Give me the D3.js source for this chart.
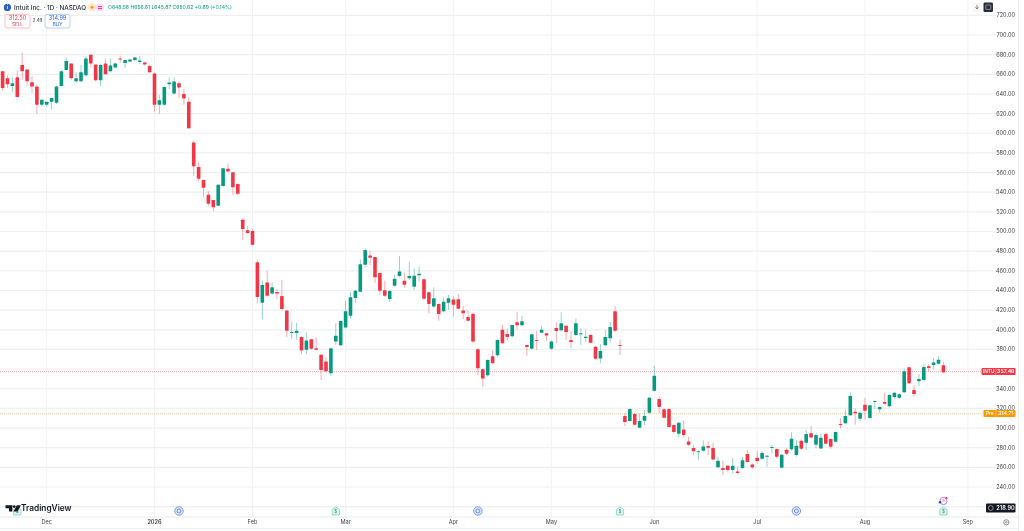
<!DOCTYPE html>
<html>
<head>
<meta charset="utf-8">
<script src="https://cdn.jsdelivr.net/npm/d3@7/dist/d3.min.js"></script>
<style>
html,body{margin:0;padding:0;background:#fff;overflow:hidden}
svg{display:block;filter:blur(0.3px)}
text{font-family:Inter,"Liberation Sans",sans-serif}
</style>
</head>
<body>
<svg id="chart" width="1024" height="531"></svg>
<script>
const opens=[663,656,648,657,669.5,665,652,647.5,629,629,632,631,648,664.5,671,653,653,659,680,670,654,671,663,667,676,671.5,673,674.5,672.6,672,668.5,660.7,629,629,650,640.5,651,640,632,590.7,565.6,552.4,537.5,532,526.3,546.3,564,560.2,548.3,512,501.2,500.5,468.7,427.6,448,436.8,438.5,434.4,419.5,397.1,396.8,392.7,379.8,390.3,381.2,374.7,367.6,355.7,388,384.2,402.2,414.4,432.4,438.8,466.3,475.5,474.1,457.8,440.2,431.4,444.9,454.8,450,452.4,443.9,455.4,451.4,438.1,423.6,426.3,418.8,427.6,430.7,431,419.5,413,416.4,380.1,359.8,353.7,373,374,400.1,395.7,393.4,407.6,404.5,384.5,380.8,389.6,397.1,396.4,380.8,401.8,399.4,404.2,389.6,394.7,395.4,391.6,394.7,382.8,370.9,384.2,391.3,418.8,384.5,312.2,307.1,314.2,300.3,307.5,315.6,338,329.5,319,319.3,303,294.2,298.6,286.4,279.6,275.6,276.9,281.7,279.6,260,259.3,261.7,257.3,255.9,259.3,273.5,263,269.8,268.8,271.2,279.6,278.6,259.6,277.9,278.3,272.5,287.1,285.1,294.6,283,279.3,293.9,288.8,286.1,304.1,304.8,312.9,316.6,309.5,323.8,310.2,326.8,319,326.5,322.1,331.6,330.9,336.3,361.8,338.7,347.5,348.9,362.8,364.1,365.5,363.8];
const closes=[646,650,651,637,663,653,647.5,629,634,632,636,647.5,663,673.5,656,656,662,676,671,654,669.5,660,669,671,675.5,674.5,675,677,674,670,662,629,633.7,647,651.6,652.6,646.5,635.5,605,566.3,553.8,544.6,528.3,524.6,547.7,564.3,561.2,545,538.5,502.5,498.5,486.6,433.4,445.6,434.7,443.2,436.8,421.2,399.1,397.8,399.1,378.8,389,380.8,379.8,359.1,357.8,381.2,394,409,418.8,433,439.8,466.6,481.2,473.4,453.4,439.8,434.7,439.5,452,459.2,445.9,454.8,455.1,457.1,431.7,426.3,432,416.1,428.6,432,425.6,421.5,416.8,409.3,388,360.8,350.3,369.3,365.9,389.6,386.2,392.7,404.9,404.6,408.6,382.5,395.4,389.3,400.1,394.3,388.2,398.8,406.6,397.7,387.6,406.6,396.4,393,386.9,370.6,378.4,392.6,402.8,399.1,383.5,306.1,319.3,303.4,307.1,312.2,330.9,353.3,321.4,310.5,301,295.9,305.4,292.9,283,276.3,276.3,281.3,280,268.1,266.8,257.3,257.3,261.7,254.2,267.1,265.4,260,266.4,274.6,271.9,280.7,270.8,272.9,273.9,289.2,282,279,293.9,290.5,292.9,290.2,284.1,281,296,303.4,312.2,332.6,315,315.6,317.7,323.1,327.5,321.4,324.8,333.6,336,334.3,357.7,345.5,334.6,349.9,362.1,361.1,366.8,369.6,356.7];
const highs=[663.7,659,657,664,682,665,658,649,635,632,636,648,664,677,671,662,669.5,678,681,670,671,676,676,672,679,675,676,678,678.6,673,669.5,661.7,639,648,657,657,652.6,645,637,592.4,571,553,541,532.4,548,564.6,569.4,560.5,549,513.4,505.6,502,470,450,460,448,441.2,450.7,420.2,408.6,407.3,393.7,397.4,391,392.4,375.4,372.7,381.8,406.6,409.3,429.3,438.5,440.5,471.7,482.9,480.5,474.4,458.2,450,440.5,455.8,475.1,458.2,469.4,462.6,464.3,452.4,438.8,443.2,427,433,435.4,434.4,436.4,424.2,419.5,416.8,381.2,360.8,370,378.8,390.3,404.9,401.5,405.2,418.4,414,384.5,395.7,398.8,403.8,396.4,388.9,407.6,417.8,404.9,398.1,411.6,401.5,399.8,395.4,383.5,385.5,399.8,407.9,424.2,390.3,315.6,320,315.6,315,318.3,331.9,363,331.9,319.7,320,303.7,305.8,308.1,291.2,282.7,277,287.4,286.1,285,270.8,266.8,262.4,269.5,260.7,270.8,277.6,264,276.9,276.9,272.5,282.7,279.3,273.5,279.3,295.6,287.8,288.5,298,302,294.6,294.6,295.3,289.5,296.3,309.9,319,336.3,320,316.3,330.9,323.4,328.2,322.1,336,334.3,337,335.3,360.7,362.4,343.8,355,364.8,365.2,371.3,373,367.5];
const lows=[643.6,646,642,637,654,648,641,620,627,627,624,630,648,664,654,651,652.6,658,667,653,648,660,662,667,672,666.5,672.5,673.6,670.5,669,661.7,622,620,628,645,639.5,636,629,604.6,556.5,551.7,535,526.6,520.5,526,546,560.5,537,537,491.4,497.8,486,427,410.7,433.7,435.4,431,420.2,392.4,391,389.6,375.4,375.4,379.8,379.1,348.9,357.1,353,384.6,383.5,401.2,411.7,427,438.1,463.6,466,448,435.4,433.7,428.3,443.9,453.4,442.9,450.7,440.5,449,431,416.8,422.2,409.3,418.1,420.2,413.4,420.8,411,408.3,386.2,354,342.2,352.3,364.9,372.7,385.2,388.6,392.4,400.4,403.2,373.6,380.1,379.4,396.4,388.6,379.4,386.2,398.1,389.6,381.1,393.7,384.5,387.9,386.2,369.2,365.9,383.5,386.9,397.7,374.3,302,306.5,302.4,300,303,314.2,337.6,315,310.2,300.3,294.6,290.5,290.5,281.7,272.2,267.4,275.9,272.5,267.4,259,252.2,255.2,253.9,252.5,258.6,264.7,258.3,263.4,267.4,260.7,274.2,269.1,259.3,272.5,276.9,270.8,277.6,277.6,289.5,279.3,278.7,283.4,279,285.8,299.7,304.1,312.2,303.4,306.8,308.8,309.5,319.4,315.6,324.1,321,329.9,329.2,335.6,344.8,331.9,342.8,348.2,357.7,359.7,364.8,355.7];
const priceTicks=[720,700,680,660,640,620,600,580,560,540,520,500,480,460,440,420,400,380,360,340,320,300,280,260,240];
const coveredTicks=[360];
const timeLabels=["Dec","2026","Feb","Mar","Apr","May","Jun","Jul","Aug","Sep"];
const timeIndexes=[9,31,51,70,92,112,133,154,176,197];
const hiddenGrid=[220];
const lastPrice=357.46, prePrice=314.71, scalePrice="218.90";
const dividendBars=[3,68,126,192], earningsBars=[36,97,162];

const W=1024,H=531,paneR=996,axisY=517;
const svg=d3.select("#chart");
const x=d3.scaleLinear().domain([0,197]).range([2.6,967.9]);
const y=d3.scaleLinear().domain([700,240]).range([35,487]);
const UP="#089981",DN="#f23645",GRID="#eeeff2";
const indices=d3.range(opens.length);

// Grid
const grid=svg.append("g");
grid.selectAll("line.h").data(priceTicks.concat(hiddenGrid)).join("line").attr("class","h")
  .attr("x1",0).attr("x2",paneR).attr("y1",d=>y(d)).attr("y2",d=>y(d))
  .attr("stroke",GRID).attr("stroke-width",1.2);
grid.selectAll("line.v").data(timeIndexes).join("line").attr("class","v")
  .attr("x1",d=>x(d)).attr("x2",d=>x(d)).attr("y1",0).attr("y2",axisY)
  .attr("stroke","#f2f3f5").attr("stroke-width",1);
svg.append("line").attr("x1",0).attr("x2",1018).attr("y1",axisY).attr("y2",axisY).attr("stroke","#e9eaec");
svg.append("line").attr("x1",0).attr("x2",1018).attr("y1",528.5).attr("y2",528.5).attr("stroke","#eeeff1");
svg.append("line").attr("x1",1018.5).attr("x2",1018.5).attr("y1",0).attr("y2",531).attr("stroke","#eeeff1");

// Price lines
[[lastPrice,"#f9b4bb"],[prePrice,"#fcd9a8"]].forEach(([p,c])=>{
  svg.append("line").attr("x1",0).attr("x2",982).attr("y1",y(p)).attr("y2",y(p))
    .attr("stroke",c).attr("stroke-width",1.2).attr("stroke-dasharray","1 1");
});

// Candles
const candles=svg.append("g");
candles.selectAll("line").data(indices).join("line")
  .attr("x1",i=>x(i)).attr("x2",i=>x(i))
  .attr("y1",i=>y(highs[i])).attr("y2",i=>y(lows[i]))
  .attr("stroke",i=>closes[i]>=opens[i]?UP:DN).attr("stroke-opacity",.42).attr("stroke-width",1);
candles.selectAll("rect").data(indices).join("rect")
  .attr("x",i=>x(i)-1.8).attr("width",3.6)
  .attr("y",i=>y(Math.max(opens[i],closes[i])))
  .attr("height",i=>Math.max(1,Math.abs(y(opens[i])-y(closes[i]))))
  .attr("rx",.4)
  .attr("fill",i=>closes[i]>=opens[i]?UP:DN);

// Price axis
const axisG=svg.append("g");
axisG.selectAll("text").data(priceTicks.filter(d=>!coveredTicks.includes(d))).join("text")
  .attr("x",1015).attr("y",d=>y(d)).attr("dy","0.35em").attr("text-anchor","end")
  .attr("font-size",5.6).attr("fill","#3d4048").text(d=>d.toFixed(2));

// Time axis
svg.append("g").selectAll("text").data(timeLabels).join("text")
  .attr("x",(d,i)=>x(timeIndexes[i])).attr("y",522.5).attr("dy","0.2em").attr("text-anchor","middle")
  .attr("font-size",5.6).attr("fill","#3d4048").attr("font-weight",d=>d==="2026"?600:400).text(d=>d);

// Price badges
function badge(bx,p,c,label,val,split){
  const cy=y(p);
  svg.append("rect").attr("x",bx).attr("y",cy-3.5).attr("width",1015.5-bx).attr("height",7).attr("rx",1).attr("fill",c);
  svg.append("line").attr("x1",split).attr("x2",split).attr("y1",cy-3.5).attr("y2",cy+3.5).attr("stroke","#fff").attr("stroke-opacity",.6).attr("stroke-width",.5);
  svg.append("text").attr("x",(bx+split)/2).attr("y",cy).attr("dy","0.35em").attr("text-anchor","middle").attr("font-size",4.8).attr("font-weight",600).attr("fill","#fff").text(label);
  svg.append("text").attr("x",(split+1015.5)/2).attr("y",cy).attr("dy","0.35em").attr("text-anchor","middle").attr("font-size",5.2).attr("font-weight",600).attr("fill","#fff").text(val);
}
badge(981.5,lastPrice,"#f23645","INTU",lastPrice.toFixed(2),996);
badge(983.5,prePrice,"#ff9800","Pre",prePrice.toFixed(2),996);
svg.append("rect").attr("x",986).attr("y",503.5).attr("width",29.5).attr("height",9).attr("rx",1).attr("fill","#131722");
svg.append("circle").attr("cx",990.8).attr("cy",508).attr("r",2.4).attr("fill","none").attr("stroke","#d8d8d8").attr("stroke-width",.6);
svg.append("text").attr("x",1005.5).attr("y",508).attr("dy","0.35em").attr("text-anchor","middle").attr("font-size",5.6).attr("font-weight",600).attr("fill","#fff").text(scalePrice);

// Event icons
const evY=511;
dividendBars.forEach(i=>{
  const g=svg.append("g").attr("transform",`translate(${x(i)},${evY})`);
  g.append("path").attr("d","M-3.6,4 V-1.6 L0,-4 L3.6,-1.6 V4 Z").attr("fill","#e4f5f1").attr("stroke","#7fd0bf").attr("stroke-width",.8);
  g.append("text").attr("y",.3).attr("dy","0.35em").attr("text-anchor","middle").attr("font-size",4.5).attr("fill","#089981").text("$");
});
earningsBars.forEach(i=>{
  const g=svg.append("g").attr("transform",`translate(${x(i)},${evY})`);
  g.append("circle").attr("r",4.2).attr("fill","#e4ebfd").attr("stroke","#6c8ff0").attr("stroke-width",.9);
  g.append("circle").attr("r",2).attr("fill","none").attr("stroke","#4a76ee").attr("stroke-width",.8);
});
const sp=svg.append("g").attr("transform","translate(943.5,501)");
sp.append("circle").attr("r",3.6).attr("fill","#fff").attr("stroke","#b061d6").attr("stroke-width",.8);
sp.append("circle").attr("cx",3).attr("cy",-3).attr("r",1.1).attr("fill","#f23645");
sp.append("circle").attr("cx",-3.5).attr("cy",1.2).attr("r",1.2).attr("fill","#3b3bb8");
sp.append("text").attr("y",0).attr("dy","0.35em").attr("text-anchor","middle").attr("font-size",4).attr("fill","#9c3fc4").text("S");

// Logo
const logo=svg.append("g");
logo.append("path").attr("d","M5.5,505.2 H12.4 V511.6 H9 V508.2 H5.5 Z").attr("fill","#131722");
logo.append("circle").attr("cx",14.2).attr("cy",506.6).attr("r",1.4).attr("fill","#131722");
logo.append("path").attr("d","M16.8,505.2 H20.8 L17.6,511.6 H13.6 Z").attr("fill","#131722");
logo.append("text").attr("x",21).attr("y",508.4).attr("dy","0.35em").attr("font-size",8.3).attr("font-weight",600).attr("fill","#131722").text("TradingView");

// Header
svg.append("circle").attr("cx",7.4).attr("cy",7.4).attr("r",3.6).attr("fill","#2b5fc7");
svg.append("text").attr("x",7.4).attr("y",7.4).attr("dy","0.35em").attr("text-anchor","middle").attr("font-size",5).attr("font-weight",700).attr("fill","#fff").text("i");
svg.append("text").attr("x",14).attr("y",7.6).attr("dy","0.35em").attr("font-size",6.3).attr("font-weight",500).attr("fill","#2a2e39").text("Intuit Inc. · 1D · NASDAQ");
svg.append("rect").attr("x",88).attr("y",3.6).attr("width",8).attr("height",7.4).attr("rx",3.6).attr("fill","#ffe9cc");
svg.append("circle").attr("cx",92).attr("cy",7.3).attr("r",1.5).attr("fill","#ff9800");
svg.append("rect").attr("x",96).attr("y",3.6).attr("width",8).attr("height",7.4).attr("rx",3.6).attr("fill","#fbdcec");
[6.2,8.2].forEach(v=>svg.append("rect").attr("x",98).attr("y",v).attr("width",4).attr("height",.9).attr("fill","#e91e8c"));
svg.append("text").attr("x",108).attr("y",7.6).attr("dy","0.35em").attr("font-size",5.1).attr("fill","#089981")
  .text("O648.58 H656.81 L645.87 C650.62 +0.89 (+0.14%)");

function quote(bx,c,tint,val,lab){
  svg.append("rect").attr("x",bx).attr("y",14.5).attr("width",25).attr("height",13.5).attr("rx",2).attr("fill","#fff").attr("stroke",tint).attr("stroke-width",.9);
  svg.append("text").attr("x",bx+12.5).attr("y",18).attr("dy","0.35em").attr("text-anchor","middle").attr("font-size",5.6).attr("fill",c).text(val);
  svg.append("text").attr("x",bx+12.5).attr("y",24).attr("dy","0.35em").attr("text-anchor","middle").attr("font-size",4.6).attr("fill",c).text(lab);
}
quote(5,"#f23645","#f9b9bf","312.50","SELL");
quote(45,"#2962ff","#b4c6f8","314.99","BUY");
svg.append("text").attr("x",37.5).attr("y",20.8).attr("dy","0.35em").attr("text-anchor","middle").attr("font-size",4.4).attr("fill","#2a2e39").text("2.49");

// Top right buttons
svg.append("rect").attr("x",972.5).attr("y",2.5).attr("width",9).attr("height",9.5).attr("rx",1.5).attr("fill","#f7f7f8");
svg.append("path").attr("d","M977,5 V8.6 M975.5,7.4 L977,9 L978.5,7.4").attr("stroke","#555").attr("stroke-width",.7).attr("fill","none");
svg.append("rect").attr("x",983.5).attr("y",2.5).attr("width",9.5).attr("height",9.5).attr("rx",1.2).attr("fill","#2a2e39");
svg.append("rect").attr("x",985.8).attr("y",5).attr("width",5).attr("height",4.4).attr("rx",.8).attr("fill","none").attr("stroke","#ccc").attr("stroke-width",.6);

// Settings gear
svg.append("circle").attr("cx",1006.3).attr("cy",522.3).attr("r",2.6).attr("fill","none").attr("stroke","#6a6d78").attr("stroke-width",.8);
svg.append("circle").attr("cx",1006.3).attr("cy",522.3).attr("r",.9).attr("fill","none").attr("stroke","#6a6d78").attr("stroke-width",.6);
</script>
</body>
</html>
